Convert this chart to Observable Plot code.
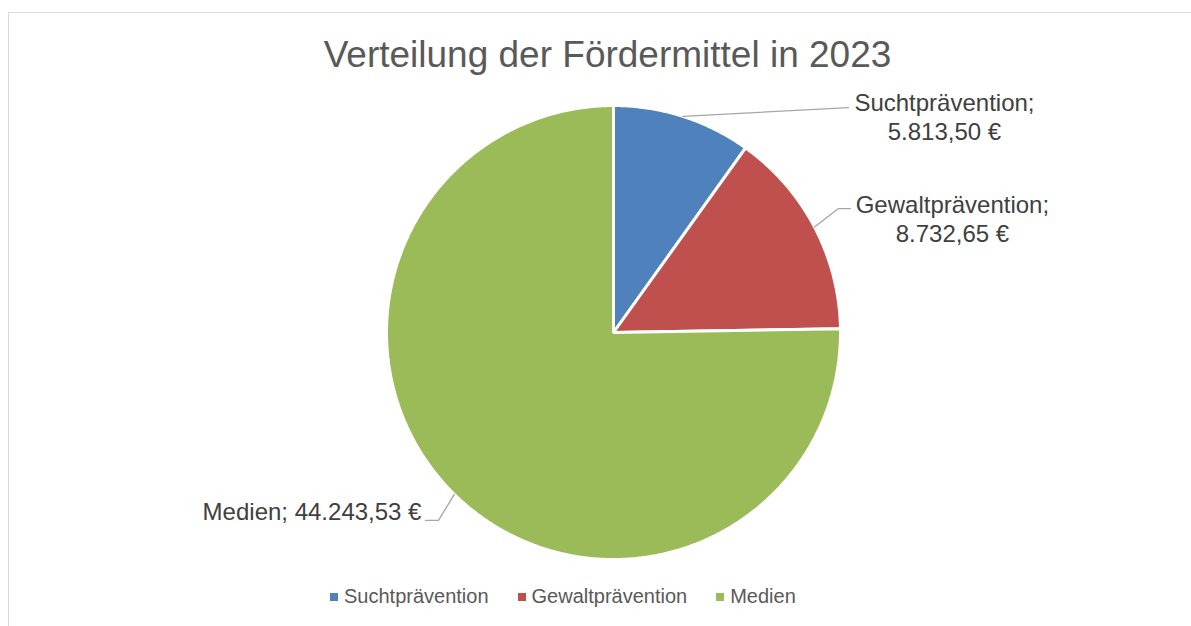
<!DOCTYPE html>
<html><head><meta charset="utf-8">
<script src="https://cdn.jsdelivr.net/npm/d3@7"></script>
<script src="https://cdn.jsdelivr.net/npm/@observablehq/plot@0.6"></script>
<style>
html,body{margin:0;padding:0;background:#fff;}
#wrap{position:relative;width:1191px;height:626px;overflow:hidden;font-family:"Liberation Sans",Arial,sans-serif;}
#border{position:absolute;left:8px;top:12px;width:1300px;height:800px;border:1px solid #d9d9d9;box-sizing:border-box;}
#chart{position:absolute;left:0;top:0;}
#legend{position:absolute;left:330px;top:585px;}
.lg-swatches{font-family:"Liberation Sans",Arial,sans-serif !important;font-size:20px !important;color:#595959;margin:0 !important;min-height:0 !important;}
.lg-swatch{margin-right:29px !important;}
.lg-swatch > svg{margin-right:6px !important;}
</style></head><body>
<div id="wrap"><div id="border"></div><div id="chart"></div><div id="legend"></div></div>
<script>
// ---- data ----
const title = "Verteilung der Fördermittel in 2023";
const categories = ["Suchtprävention", "Gewaltprävention", "Medien"];
const values = [5813.50, 8732.65, 44243.53];
const colors = ["#4F81BD", "#C0504D", "#9BBB59"];

// ---- layout (pie radius units, origin at pie centre, y up) ----
const W = 1191, H = 626, R = 227, CX = 613, CY = 332;
const labelLayout = [
  {x: 1.458, y: 1.066, anchor: "middle", twoLine: true, elbow: [1.035, 0.991], end: [1.035, 0.991]},
  {x: 1.493, y: 0.617, anchor: "middle", twoLine: true, elbow: [0.991, 0.546], end: [1.044, 0.546]},
  {x: -0.846, y: -0.753, anchor: "end", twoLine: false, elbow: [-0.771, -0.828], end: [-0.828, -0.828]}
];

const de = d3.formatLocale({decimal: ",", thousands: ".", grouping: [3], currency: ["", "\u00a0€"]});
const fmt = de.format("$,.2f");

const arcs = d3.pie().sort(null).value(d => d)(values);

// slice polygons
const slicePts = [];
arcs.forEach((a, i) => {
  const cat = categories[i];
  slicePts.push({cat, x: 0, y: 0});
  const n = Math.max(2, Math.ceil((a.endAngle - a.startAngle) / (Math.PI / 360)));
  for (let k = 0; k <= n; k++) {
    const t = a.startAngle + (a.endAngle - a.startAngle) * k / n;
    slicePts.push({cat, x: Math.sin(t), y: Math.cos(t)});
  }
});

// leaders + labels
const leaderPts = [];
const labels = [];
arcs.forEach((a, i) => {
  const cat = categories[i];
  const L = labelLayout[i];
  const m = (a.startAngle + a.endAngle) / 2;
  leaderPts.push({cat, x: Math.sin(m), y: Math.cos(m)});
  leaderPts.push({cat, x: L.elbow[0], y: L.elbow[1]});
  leaderPts.push({cat, x: L.end[0], y: L.end[1]});
  labels.push({
    cat, x: L.x, y: L.y, anchor: L.anchor,
    text: L.twoLine ? `${cat};\n${fmt(values[i])}` : `${cat}; ${fmt(values[i])}`
  });
});

const plot = Plot.plot({
  width: W, height: H,
  margin: 0,
  x: {domain: [-CX / R, (W - CX) / R], axis: null},
  y: {domain: [-(H - CY) / R, CY / R], axis: null},
  color: {domain: categories, range: colors},
  style: {fontFamily: "'Liberation Sans', Arial, sans-serif", background: "transparent", overflow: "visible"},
  marks: [
    Plot.line(slicePts, {x: "x", y: "y", z: "cat", fill: "cat", stroke: "white", strokeWidth: 3, curve: "linear-closed", strokeLinejoin: "miter"}),
    Plot.line(leaderPts, {x: "x", y: "y", z: "cat", stroke: "#a6a6a6", strokeWidth: 1.3}),
    Plot.text(labels.filter(d => d.anchor === "middle"), {x: "x", y: "y", text: "text", textAnchor: "middle", lineAnchor: "top", lineHeight: 1.2, fontSize: 24, fill: "#404040"}),
    Plot.text(labels.filter(d => d.anchor === "end"), {x: "x", y: "y", text: "text", textAnchor: "end", lineAnchor: "top", fontSize: 24, fill: "#404040"}),
    Plot.text([title], {frameAnchor: "top", text: d => d, dx: 11.5, dy: 40.7, lineAnchor: "top", fontSize: 37, fill: "#595959"})
  ]
});
document.getElementById("chart").appendChild(plot);
document.getElementById("legend").appendChild(plot.legend("color", {swatchSize: 8, className: "lg"}));
</script>
</body></html>
